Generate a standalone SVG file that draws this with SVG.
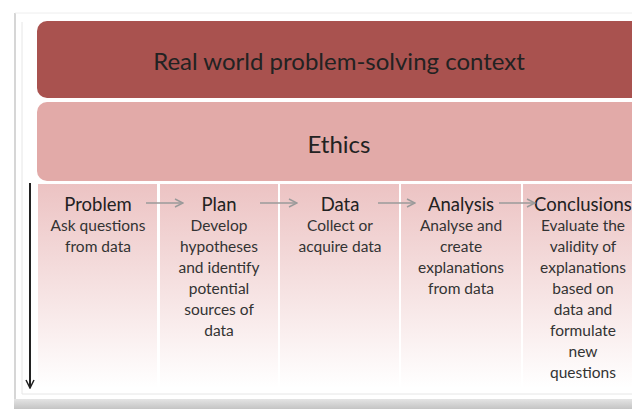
<svg xmlns="http://www.w3.org/2000/svg" width="632" height="409" viewBox="0 0 632 409">
<style>
.t{font-family:Lato,"Open Sans","Liberation Sans",sans-serif;fill:#222;text-anchor:middle}
.big{font-size:24px}
.hd{font-size:18.5px}
.bd{font-size:15.5px;fill:#333}
.conn{stroke:#9a9a9a;stroke-width:1.5;fill:none}
</style>
<defs>
<linearGradient id="colg" x1="0" y1="0" x2="0" y2="1">
<stop offset="0" stop-color="#ecc3c3"/>
<stop offset="1" stop-color="#ffffff"/>
</linearGradient>
<linearGradient id="botg" x1="0" y1="0" x2="0" y2="1">
<stop offset="0" stop-color="#e4e4e4"/>
<stop offset="1" stop-color="#c4c4c4"/>
</linearGradient>
<marker id="ga" markerWidth="10" markerHeight="10" refX="9" refY="5" orient="auto" markerUnits="userSpaceOnUse">
<path d="M1,1 L9,5 L1,9" fill="none" stroke="#9a9a9a" stroke-width="1.5"/>
</marker>
<marker id="ba" markerWidth="10" markerHeight="12" refX="5" refY="11" orient="0" markerUnits="userSpaceOnUse">
<path d="M1,3 L5,11 L9,3" fill="none" stroke="#222" stroke-width="1.5"/>
</marker>
</defs>
<rect width="632" height="409" fill="#fff"/>
<g id="frame">
<line x1="15" y1="13" x2="15" y2="400" stroke="#d6d6d6" stroke-width="2"/>
<line x1="22" y1="22" x2="22" y2="394" stroke="#e6e6e6" stroke-width="1"/>
<line x1="15" y1="13" x2="632" y2="13" stroke="#eeeeee" stroke-width="1"/>
<rect x="14" y="399" width="618" height="10" fill="url(#botg)"/>
<line x1="22" y1="394" x2="632" y2="394" stroke="#e6e6e6" stroke-width="1"/>
</g>
<g id="context">
<rect x="37" y="21" width="610" height="77" rx="10" fill="#a9524f"/>
<text class="t big" x="339" y="70">Real world problem-solving context</text>
</g>
<g id="ethics">
<rect x="37" y="102" width="610" height="79" rx="10" fill="#e2aaa8"/>
<text class="t big" x="339" y="153">Ethics</text>
</g>
<g id="problem">
<rect x="38" y="184" width="119" height="204" fill="url(#colg)"/>
<text class="t hd" x="98" y="211">Problem</text>
<text class="t bd"><tspan x="98" y="231">Ask questions</tspan><tspan x="98" y="252">from data</tspan></text>
</g>
<g id="plan">
<rect x="160" y="184" width="118" height="204" fill="url(#colg)"/>
<text class="t hd" x="219" y="211">Plan</text>
<text class="t bd"><tspan x="219" y="231">Develop</tspan><tspan x="219" y="252">hypotheses</tspan><tspan x="219" y="273">and identify</tspan><tspan x="219" y="294">potential</tspan><tspan x="219" y="315">sources of</tspan><tspan x="219" y="336">data</tspan></text>
</g>
<g id="data">
<rect x="280" y="184" width="119" height="204" fill="url(#colg)"/>
<text class="t hd" x="340" y="211">Data</text>
<text class="t bd"><tspan x="340" y="231">Collect or</tspan><tspan x="340" y="252">acquire data</tspan></text>
</g>
<g id="analysis">
<rect x="401" y="184" width="120" height="204" fill="url(#colg)"/>
<text class="t hd" x="461" y="211">Analysis</text>
<text class="t bd"><tspan x="461" y="231">Analyse and</tspan><tspan x="461" y="252">create</tspan><tspan x="461" y="273">explanations</tspan><tspan x="461" y="294">from data</tspan></text>
</g>
<g id="conclusions">
<rect x="523" y="184" width="120" height="204" fill="url(#colg)"/>
<text class="t hd" x="583" y="211">Conclusions</text>
<text class="t bd"><tspan x="583" y="231">Evaluate the</tspan><tspan x="583" y="252">validity of</tspan><tspan x="583" y="273">explanations</tspan><tspan x="583" y="294">based on</tspan><tspan x="583" y="315">data and</tspan><tspan x="583" y="336">formulate</tspan><tspan x="583" y="357">new</tspan><tspan x="583" y="378">questions</tspan></text>
</g>
<g id="connectors">
<line class="conn" x1="146" y1="203" x2="183" y2="203" marker-end="url(#ga)"/>
<line class="conn" x1="260" y1="203" x2="297" y2="203" marker-end="url(#ga)"/>
<line class="conn" x1="378" y1="203" x2="415" y2="203" marker-end="url(#ga)"/>
<line class="conn" x1="499" y1="203" x2="535" y2="203" marker-end="url(#ga)"/>
<line x1="30" y1="183" x2="30" y2="388" stroke="#222" stroke-width="2" marker-end="url(#ba)"/>
</g>
</svg>
